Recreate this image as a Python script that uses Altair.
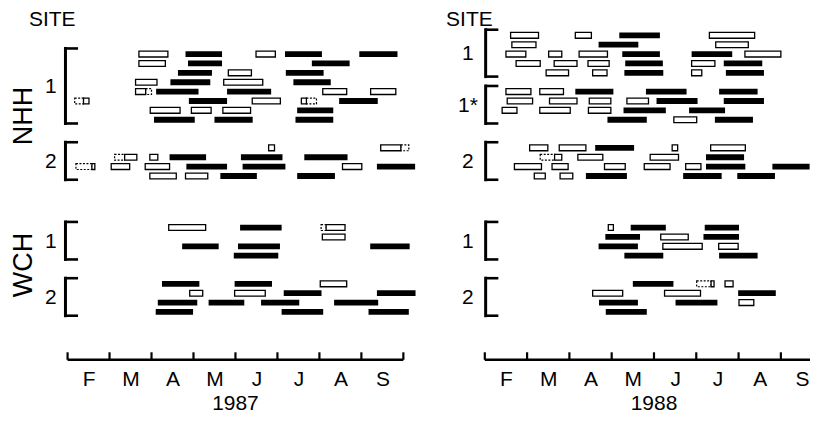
import json
import altair as alt
import pandas as pd

# ---------------- data ----------------
MONTHS = ["F", "M", "A", "M", "J", "J", "A", "S"]   # labels centred in each month
YEARS = ["1987", "1988"]
STATIONS = ["NHH", "WCH"]

# bars: (row within site, start, end, kind); month value 2.0 = 1 Feb, 3.0 = 1 Mar ...
# kind: F = filled, O = open, D = dashed outline
NHH87_S1 = [
    (0, 3.70, 4.39, "O"), (0, 4.81, 5.68, "F"), (0, 6.49, 6.95, "O"), (0, 7.18, 8.06, "F"), (0, 8.95, 9.86, "F"),
    (1, 3.70, 4.33, "O"), (1, 4.87, 5.68, "F"), (1, 7.82, 8.72, "F"),
    (2, 4.63, 5.44, "F"), (2, 5.83, 6.38, "O"), (2, 7.20, 8.10, "F"),
    (3, 3.62, 4.13, "O"), (3, 4.45, 5.40, "F"), (3, 5.72, 6.65, "O"), (3, 7.38, 8.27, "F"),
    (4, 3.62, 3.86, "O"), (4, 3.86, 4.00, "D"), (4, 4.11, 5.12, "F"), (4, 5.80, 6.85, "F"),
    (4, 8.08, 8.65, "O"), (4, 9.22, 9.82, "O"),
    (5, 2.17, 2.38, "D"), (5, 2.38, 2.51, "O"), (5, 4.89, 5.80, "F"), (5, 6.40, 7.07, "O"),
    (5, 7.57, 7.69, "O"), (5, 7.69, 7.93, "D"), (5, 8.47, 9.39, "F"),
    (6, 3.97, 4.68, "O"), (6, 4.95, 5.42, "O"), (6, 5.70, 6.36, "O"), (6, 7.47, 8.33, "F"),
    (7, 4.06, 5.03, "F"), (7, 5.50, 6.41, "F"), (7, 7.43, 8.33, "F"),
]
NHH87_S2 = [
    (0, 6.79, 6.93, "O"), (0, 9.46, 9.94, "O"), (0, 9.94, 10.13, "D"),
    (1, 3.12, 3.36, "D"), (1, 3.36, 3.65, "O"), (1, 3.96, 4.15, "O"), (1, 4.43, 5.30, "F"),
    (1, 6.13, 7.12, "F"), (1, 7.64, 8.67, "F"),
    (2, 2.20, 2.58, "D"), (2, 2.58, 2.65, "O"), (2, 3.04, 3.48, "O"), (2, 3.85, 4.43, "O"),
    (2, 4.83, 5.80, "F"), (2, 6.17, 7.19, "F"), (2, 8.55, 9.01, "O"), (2, 9.37, 10.28, "F"),
    (3, 3.96, 4.59, "O"), (3, 4.81, 5.34, "O"), (3, 5.64, 6.51, "F"), (3, 7.47, 8.37, "F"),
]
WCH87_S1 = [
    (0, 4.41, 5.29, "O"), (0, 6.11, 7.10, "F"), (0, 8.04, 8.16, "D"), (0, 8.16, 8.61, "O"),
    (1, 8.07, 8.61, "O"),
    (2, 4.73, 5.60, "F"), (2, 6.06, 7.06, "F"), (2, 9.21, 10.15, "F"),
    (3, 5.96, 7.02, "F"),
]
WCH87_S2 = [
    (0, 4.25, 5.14, "F"), (0, 5.98, 6.87, "F"), (0, 8.02, 8.65, "O"),
    (1, 4.91, 5.22, "O"), (1, 5.98, 6.71, "O"), (1, 7.15, 8.05, "F"), (1, 9.37, 10.29, "F"),
    (2, 4.15, 5.09, "F"), (2, 5.36, 6.21, "F"), (2, 6.61, 7.52, "F"), (2, 8.35, 9.40, "F"),
    (3, 4.10, 4.99, "F"), (3, 7.10, 8.09, "F"), (3, 9.17, 10.13, "F"),
]
NHH88_S1 = [
    (0, 2.61, 3.27, "O"), (0, 4.14, 4.52, "O"), (0, 5.18, 6.14, "F"), (0, 7.31, 8.38, "O"),
    (1, 2.64, 3.21, "O"), (1, 4.69, 5.63, "F"), (1, 7.46, 8.23, "O"),
    (2, 2.50, 2.97, "O"), (2, 3.51, 3.82, "O"), (2, 4.23, 4.90, "O"), (2, 5.25, 6.14, "F"),
    (2, 6.89, 7.85, "F"), (2, 8.15, 9.00, "O"),
    (3, 2.74, 3.31, "O"), (3, 3.64, 4.18, "O"), (3, 4.44, 4.94, "O"), (3, 5.32, 6.21, "F"),
    (3, 6.89, 7.44, "O"), (3, 7.65, 8.56, "F"),
    (4, 3.45, 3.98, "O"), (4, 4.55, 4.89, "O"), (4, 5.30, 6.22, "F"), (4, 6.89, 7.13, "O"),
    (4, 7.70, 8.60, "F"),
]
NHH88_S1X = [
    (0, 2.50, 3.09, "O"), (0, 3.30, 3.86, "O"), (0, 4.14, 5.04, "F"), (0, 5.81, 6.77, "F"), (0, 7.54, 8.45, "F"),
    (1, 2.53, 3.13, "O"), (1, 3.53, 4.18, "O"), (1, 4.47, 4.98, "O"), (1, 5.36, 5.87, "O"),
    (1, 6.06, 7.03, "F"), (1, 7.65, 8.60, "F"),
    (2, 2.41, 2.76, "O"), (2, 3.30, 4.02, "O"), (2, 4.45, 4.98, "O"), (2, 5.28, 6.28, "F"), (2, 6.83, 7.68, "F"),
    (3, 4.90, 5.83, "F"), (3, 6.47, 7.01, "O"), (3, 7.44, 8.34, "F"),
]
NHH88_S2 = [
    (0, 3.06, 3.49, "O"), (0, 3.76, 4.39, "O"), (0, 4.61, 5.53, "F"), (0, 6.43, 6.56, "O"), (0, 7.34, 8.16, "O"),
    (1, 3.31, 3.65, "D"), (1, 3.65, 3.82, "O"), (1, 4.20, 4.79, "O"), (1, 5.91, 6.58, "O"), (1, 7.23, 8.13, "F"),
    (2, 2.70, 3.34, "O"), (2, 3.59, 3.97, "O"), (2, 4.83, 5.32, "O"), (2, 5.77, 6.38, "O"),
    (2, 6.75, 7.11, "O"), (2, 7.23, 8.16, "F"), (2, 8.80, 9.68, "F"),
    (3, 3.17, 3.43, "O"), (3, 3.78, 4.08, "O"), (3, 4.39, 5.36, "F"), (3, 6.69, 7.60, "F"), (3, 7.97, 8.86, "F"),
]
WCH88_S1 = [
    (0, 4.92, 5.04, "O"), (0, 5.45, 6.28, "F"), (0, 7.20, 8.01, "F"),
    (1, 4.85, 5.67, "F"), (1, 6.16, 6.81, "O"), (1, 7.17, 8.01, "F"),
    (2, 4.69, 5.62, "F"), (2, 6.21, 7.14, "O"), (2, 7.53, 7.99, "O"),
    (3, 5.30, 6.22, "F"), (3, 7.54, 8.45, "F"),
]
WCH88_S2 = [
    (0, 5.50, 6.46, "F"), (0, 7.01, 7.35, "D"), (0, 7.35, 7.42, "O"), (0, 7.68, 7.87, "O"),
    (1, 4.55, 5.26, "O"), (1, 6.25, 7.10, "O"), (1, 7.99, 8.88, "F"),
    (2, 4.70, 5.62, "F"), (2, 6.51, 7.50, "F"), (2, 8.01, 8.36, "O"),
    (3, 4.86, 5.83, "F"),
]

# site groups per panel: (station, site label, bars, number of rows)
SITES_1987 = [("NHH", "1", NHH87_S1, 8), ("NHH", "2", NHH87_S2, 4),
              ("WCH", "1", WCH87_S1, 4), ("WCH", "2", WCH87_S2, 4)]
SITES_1988 = [("NHH", "1", NHH88_S1, 5), ("NHH", "1*", NHH88_S1X, 4), ("NHH", "2", NHH88_S2, 4),
              ("WCH", "1", WCH88_S1, 4), ("WCH", "2", WCH88_S2, 4)]

# ---------------- layout (not data) ----------------
FONT = "Liberation Sans"
ROW_OFFSETS = {"1987": [0, 10, 18.5, 24.5], "1988": [-2, 4, 10, 18.5, 24.5]}
Y_DOMAIN = [-4.755, 32.69]
PANEL = {
    "1987": dict(domain=[0.581, 10.372], width=412, bracket=1.95, axis_end=10, stations=True),
    "1988": dict(domain=[0.538, 9.689], width=388, bracket=2.02, axis_end=9.689, stations=False),
}
STATION_ROW = {"NHH": 6.6, "WCH": 22.5}
HEIGHT = 352
AXIS_ROW = 32.6
HALF = 0.31

label_expr = json.dumps(MONTHS) + "[floor(datum.value) - 2]"


def xenc(field, dom):
    return alt.X(field, type="quantitative",
                 scale=alt.Scale(domain=dom, nice=False, zero=False),
                 axis=alt.Axis(values=[2.5 + i for i in range(len(MONTHS))], labelExpr=label_expr,
                               domain=False, ticks=False, grid=False, title=None,
                               labelFontSize=21, labelFont=FONT, labelColor="black",
                               labelPadding=8, labelFlush=False, labelOverlap=False))


def yenc(field):
    return alt.Y(field, type="quantitative",
                 scale=alt.Scale(domain=Y_DOMAIN, nice=False, zero=False, reverse=True), axis=None)


def panel(year, sites):
    p = PANEL[year]
    dom = p["domain"]
    offs = ROW_OFFSETS[year]
    bars, brackets, serifs, labels = [], [], [], []
    for (station, site, rows, n), off in zip(sites, offs):
        for r, s, e, k in rows:
            bars.append(dict(s=s, e=e, y0=off + r - HALF, y1=off + r + HALF, kind=k))
        top, bot = off - 0.6, off + n - 1 + 0.4
        brackets.append(dict(x=p["bracket"], top=top, bot=bot))
        serifs.append(dict(x=p["bracket"], x2=p["bracket"] + 0.3, y=top))
        serifs.append(dict(x=p["bracket"], x2=p["bracket"] + 0.3, y=bot))
        labels.append(dict(x=1.6, y=off + (n - 1) / 2, t=site))
    bdf = pd.DataFrame(bars)
    base = alt.Chart(bdf)
    dashed = base.transform_filter("datum.kind == 'D'").mark_rect(
        fill="white", stroke="black", strokeWidth=1.2, strokeDash=[2, 1.5]).encode(
        x=xenc("s", dom), x2="e", y=yenc("y0"), y2="y1")
    opened = base.transform_filter("datum.kind == 'O'").mark_rect(
        fill="white", stroke="black", strokeWidth=1.3).encode(
        x=xenc("s", dom), x2="e", y=yenc("y0"), y2="y1")
    filled = base.transform_filter("datum.kind == 'F'").mark_rect(
        fill="black").encode(x=xenc("s", dom), x2="e", y=yenc("y0"), y2="y1")

    br = alt.Chart(pd.DataFrame(brackets)).mark_rule(color="black", strokeWidth=3, strokeCap="square").encode(
        x=xenc("x", dom), y=yenc("top"), y2="bot")
    sf = alt.Chart(pd.DataFrame(serifs)).mark_rule(color="black", strokeWidth=2.6).encode(
        x=xenc("x", dom), x2="x2", y=yenc("y"))
    lb = alt.Chart(pd.DataFrame(labels)).mark_text(
        font=FONT, fontSize=21, color="black", align="center", baseline="middle").encode(
        x=xenc("x", dom), y=yenc("y"), text="t:N")
    site_title = alt.Chart(pd.DataFrame([dict(x=1.635, y=-3.68, t="SITE")])).mark_text(
        font=FONT, fontSize=21, color="black", align="center", baseline="middle").encode(
        x=xenc("x", dom), y=yenc("y"), text="t:N")

    axis_line = alt.Chart(pd.DataFrame([dict(a=2, b=p["axis_end"], y=AXIS_ROW)])).mark_rule(
        color="black", strokeWidth=2.6).encode(x=xenc("a", dom), x2="b", y=yenc("y"))
    ticks = alt.Chart(pd.DataFrame([dict(x=m, y=AXIS_ROW, y2=AXIS_ROW - 0.8)
                                    for m in range(2, int(p["axis_end"]) + 1)])).mark_rule(
        color="black", strokeWidth=2.2).encode(x=xenc("x", dom), y=yenc("y"), y2="y2")
    yr = alt.Chart(pd.DataFrame([dict(x=6.0, y=37.35, t=year)])).mark_text(
        font=FONT, fontSize=21, color="black", align="center", baseline="middle").encode(
        x=xenc("x", dom), y=yenc("y"), text="t:N")

    layers = [dashed, opened, filled, br, sf, lb, site_title, axis_line, ticks, yr]
    if p["stations"]:
        st = pd.DataFrame([dict(x=0.97, y=STATION_ROW[s], t=s) for s in STATIONS])
        layers.append(alt.Chart(st).mark_text(font=FONT, fontSize=27, color="black", angle=270,
                                              align="center", baseline="middle").encode(
            x=xenc("x", dom), y=yenc("y"), text="t:N"))
    return alt.layer(*layers).properties(width=p["width"], height=HEIGHT,
                                         view=alt.ViewBackground(stroke="transparent", strokeWidth=0))


chart = alt.hconcat(panel(YEARS[0], SITES_1987), panel(YEARS[1], SITES_1988), spacing=4).properties(
    padding=0).configure_view(stroke="transparent", strokeWidth=0).configure(background="white")

chart.save("out.html", embed_options={"renderer": "svg", "actions": False})
